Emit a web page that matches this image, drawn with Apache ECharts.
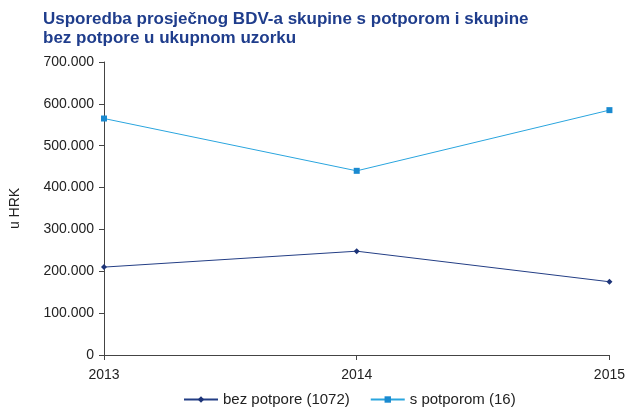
<!DOCTYPE html>
<html>
<head>
<meta charset="utf-8">
<script src="https://cdn.jsdelivr.net/npm/echarts@6/dist/echarts.min.js"></script>
<style>
  html, body { margin: 0; padding: 0; background: #fff; }
  #chart { width: 628px; height: 412px; }
</style>
</head>
<body>
<div id="chart"></div>
<script>
// podaci
var years = ['2013', '2014', '2015']
var bezPotpore = [210000, 248000, 175000]
var sPotporom = [565000, 440000, 585000]
var yTicks = [0, 100000, 200000, 300000, 400000, 500000, 600000, 700000]

var font = 'Liberation Sans, Arial, sans-serif'

function fmt(v) {
  return String(v).replace(/\B(?=(\d{3})+(?!\d))/g, '.')
}

var chart = echarts.init(document.getElementById('chart'))
chart.setOption({
  animation: false,
  title: {
    text: 'Usporedba prosječnog BDV-a skupine s potporom i skupine\nbez potpore u ukupnom uzorku',
    left: 38,
    top: 5,
    textStyle: {
      fontFamily: font,
      fontSize: 17,
      fontWeight: 'bold',
      color: '#1f3d8c',
      lineHeight: 19
    }
  },
  legend: {
    bottom: 0,
    left: 178,
    itemWidth: 34,
    itemHeight: 8,
    itemGap: 20,
    textStyle: { fontFamily: font, fontSize: 15, color: '#222' },
    data: ['bez potpore (1072)', 's potporom (16)']
  },
  grid: {
    left: 103,
    right: 16,
    top: 62,
    bottom: 57
  },
  xAxis: {
    type: 'category',
    data: years,
    boundaryGap: false,
    axisLine: { lineStyle: { color: '#444', width: 1 } },
    axisTick: { alignWithLabel: true, length: 5, lineStyle: { color: '#444' } },
    axisLabel: { fontFamily: font, fontSize: 14, color: '#222', margin: 13, showMaxLabel: true }
  },
  yAxis: {
    type: 'value',
    min: yTicks[0],
    max: yTicks[yTicks.length - 1],
    interval: 100000,
    name: 'u HRK',
    nameLocation: 'middle',
    nameGap: 82,
    nameTextStyle: { fontFamily: font, fontSize: 14, color: '#222' },
    axisLine: { show: true, lineStyle: { color: '#444', width: 1 } },
    axisTick: { show: true, length: 5, lineStyle: { color: '#444' } },
    splitLine: { show: false },
    axisLabel: {
      fontFamily: font,
      fontSize: 14,
      color: '#222',
      margin: 10,
      formatter: fmt
    }
  },
  series: [
    {
      name: 'bez potpore (1072)',
      type: 'line',
      data: bezPotpore,
      symbol: 'diamond',
      symbolSize: 6,
      lineStyle: { color: '#233e85', width: 1 },
      itemStyle: { color: '#1d3478' }
    },
    {
      name: 's potporom (16)',
      type: 'line',
      data: sPotporom,
      symbol: 'rect',
      symbolSize: 6,
      lineStyle: { color: '#2aa5de', width: 1 },
      itemStyle: { color: '#1a8ad0' }
    }
  ]
})
</script>
</body>
</html>
